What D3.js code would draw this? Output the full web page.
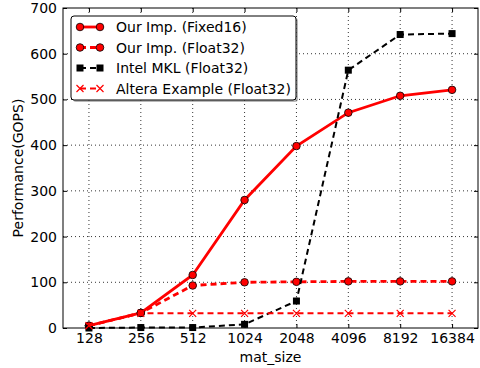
<!DOCTYPE html>
<html>
<head>
<meta charset="utf-8">
<script src="https://cdn.jsdelivr.net/npm/d3@7"></script>
<style>
  body { margin: 0; background: #fff; }
  text { font-family: "DejaVu Sans", sans-serif; }
</style>
</head>
<body>
<svg id="chart" width="480" height="368"></svg>
<script>
// chart data
const matSizes = ["128", "256", "512", "1024", "2048", "4096", "8192", "16384"];
const fixed16 = [5, 33, 116, 280, 398, 471, 508, 521];
const ourFloat32 = [5, 33, 93, 100, 101, 102, 102, 102];
const intelMkl = [0, 1, 1, 8, 59, 564, 642, 644];
const alteraFloat32 = [5, 32, 32, 32, 32, 32, 32, 32];
const yTicks = [0, 100, 200, 300, 400, 500, 600, 700];

const seriesNames = ["Our Imp. (Fixed16)", "Our Imp. (Float32)", "Intel MKL (Float32)", "Altera Example (Float32)"];

const svgWidth = 480;
const svgHeight = 368;
const margin = { top: 8, right: 2, bottom: 40, left: 63 };
const width = svgWidth - margin.left - margin.right;
const height = svgHeight - margin.top - margin.bottom;
const fontSize = "14px";

const svg = d3.select("#chart");
const chart = svg.append("g")
  .attr("transform", "translate(" + margin.left + "," + margin.top + ")");

// x is categorical with half-step padding at each end
const xScale = d3.scalePoint()
  .domain(matSizes)
  .range([0, width])
  .padding(0.5);

const yScale = d3.scaleLinear()
  .domain([0, 700])
  .range([height, 0]);

// grid lines
chart.append("g").selectAll("line")
  .data(matSizes)
  .enter().append("line")
  .attr("x1", d => xScale(d)).attr("x2", d => xScale(d))
  .attr("y1", 0).attr("y2", height)
  .attr("stroke", "#000").attr("stroke-width", 0.8)
  .attr("stroke-dasharray", "1,3");

chart.append("g").selectAll("line")
  .data(yTicks.slice(1, -1))
  .enter().append("line")
  .attr("x1", 0).attr("x2", width)
  .attr("y1", d => yScale(d)).attr("y2", d => yScale(d))
  .attr("stroke", "#000").attr("stroke-width", 0.8)
  .attr("stroke-dasharray", "1,3");

// axes (ticks point inward, on all four sides)
const xAxis = chart.append("g")
  .attr("transform", "translate(0," + height + ")")
  .call(d3.axisBottom(xScale).tickSizeInner(-4).tickSizeOuter(0).tickPadding(5));
const xTop = chart.append("g")
  .call(d3.axisTop(xScale).tickSizeInner(-4).tickSizeOuter(0).tickFormat(""));
const yAxis = chart.append("g")
  .call(d3.axisLeft(yScale).tickValues(yTicks).tickSizeInner(-4).tickSizeOuter(0).tickPadding(6));
const yRight = chart.append("g")
  .attr("transform", "translate(" + width + ",0)")
  .call(d3.axisRight(yScale).tickValues(yTicks).tickSizeInner(-4).tickSizeOuter(0).tickFormat(""));

[xAxis, xTop, yAxis, yRight].forEach(g => {
  g.attr("font-family", null).attr("font-size", null);
  g.select(".domain").remove();
  g.selectAll("line").attr("stroke", "#000");
  g.selectAll("text").style("font-size", fontSize).attr("fill", "#000");
});

// frame
chart.append("rect")
  .attr("width", width).attr("height", height)
  .attr("fill", "none").attr("stroke", "#000").attr("stroke-width", 1);

// axis titles
svg.append("text")
  .attr("x", margin.left + width / 2)
  .attr("y", 362)
  .attr("text-anchor", "middle")
  .style("font-size", fontSize)
  .text("mat_size");

svg.append("text")
  .attr("transform", "translate(23," + (margin.top + height / 2) + ") rotate(-90)")
  .attr("text-anchor", "middle")
  .style("font-size", fontSize)
  .text("Performance(GOPS)");

// series styles
const series = [
  { name: seriesNames[0], values: fixed16, color: "red", dash: null, width: 2.8, marker: "circle" },
  { name: seriesNames[1], values: ourFloat32, color: "red", dash: "6,4", width: 2.8, marker: "circle" },
  { name: seriesNames[2], values: intelMkl, color: "black", dash: "6,4", width: 2, marker: "square" },
  { name: seriesNames[3], values: alteraFloat32, color: "red", dash: "6,4", width: 2, marker: "x" }
];

const line = d3.line()
  .x((d, i) => xScale(matSizes[i]))
  .y(d => yScale(d));

function drawMarker(g, type, x, y) {
  if (type === "circle") {
    g.append("circle").attr("cx", x).attr("cy", y).attr("r", 3.8)
      .attr("fill", "red").attr("stroke", "#000").attr("stroke-width", 0.8);
  } else if (type === "square") {
    g.append("rect").attr("x", x - 3.5).attr("y", y - 3.5)
      .attr("width", 7).attr("height", 7).attr("fill", "#000");
  } else {
    const s = 3.5;
    g.append("path")
      .attr("d", `M${x - s},${y - s}L${x + s},${y + s}M${x - s},${y + s}L${x + s},${y - s}`)
      .attr("stroke", "red").attr("stroke-width", 1.2).attr("fill", "none");
  }
}

series.forEach(s => {
  const g = chart.append("g");
  g.append("path")
    .datum(s.values)
    .attr("d", line)
    .attr("fill", "none")
    .attr("stroke", s.color)
    .attr("stroke-width", s.width)
    .attr("stroke-dasharray", s.dash);
  s.values.forEach((v, i) => drawMarker(g, s.marker, xScale(matSizes[i]), yScale(v)));
});

// legend
const legend = svg.append("g").attr("transform", "translate(71,16)");
legend.append("rect")
  .attr("x", 2).attr("y", 2).attr("width", 225).attr("height", 84).attr("rx", 3)
  .attr("fill", "#888").attr("opacity", 0.6);
legend.append("rect")
  .attr("width", 225).attr("height", 84).attr("rx", 3)
  .attr("fill", "#fff").attr("stroke", "#000").attr("stroke-width", 1);

series.forEach((s, i) => {
  const y = 11 + i * 20.5;
  const g = legend.append("g");
  g.append("line")
    .attr("x1", 9).attr("x2", 29).attr("y1", y).attr("y2", y)
    .attr("stroke", s.color).attr("stroke-width", s.width)
    .attr("stroke-dasharray", s.dash);
  drawMarker(g, s.marker, 9, y);
  drawMarker(g, s.marker, 29, y);
  g.append("text")
    .attr("x", 45).attr("y", y + 5)
    .style("font-size", fontSize)
    .text(s.name);
});
</script>
</body>
</html>
